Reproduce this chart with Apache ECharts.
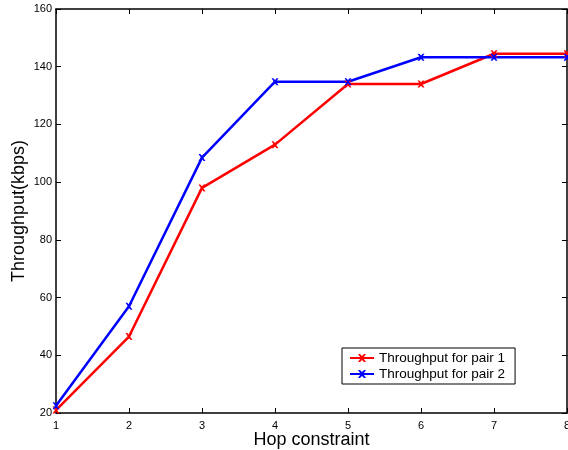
<!DOCTYPE html>
<html>
<head>
<meta charset="utf-8">
<script src="https://cdn.jsdelivr.net/npm/echarts@6/dist/echarts.min.js"></script>
<style>html,body{margin:0;padding:0;background:#fff;}#c{width:568px;height:450px;}</style>
</head>
<body>
<div id="c"></div>
<script>
const hops = [1, 2, 3, 4, 5, 6, 7, 8];
const pair1 = [21, 46.5, 98, 113, 134, 134, 144.5, 144.5];
const pair2 = [22.5, 57, 108.5, 134.8, 134.8, 143.3, 143.3, 143.3];
const seriesNames = ['Throughput for pair 1', 'Throughput for pair 2'];

const FONT = 'Liberation Sans, Arial, Helvetica, sans-serif';
const xMark = 'path://M0,0L2.5,0L5,2.5L7.5,0L10,0L6.5,5L10,10L7.5,10L5,7.5L2.5,10L0,10L3.5,5Z';
const chart = echarts.init(document.getElementById('c'));
const axisCommon = {
  axisLine: { show: true, onZero: false, lineStyle: { color: '#000', width: 1.5 } },
  axisTick: { show: true, inside: true, length: 5, lineStyle: { color: '#000', width: 1 } },
  splitLine: { show: false }
};
chart.setOption({
  animation: false,
  grid: { left: 56, top: 9, right: 1, bottom: 37, show: false, outerBoundsMode: 'none', containLabel: false },
  legend: {
    orient: 'vertical', left: 342, top: 348,
    data: seriesNames,
    borderColor: '#000', borderWidth: 1, backgroundColor: '#fff',
    padding: [3, 10, 3, 7], itemGap: 2, itemWidth: 24, itemHeight: 10,
    textStyle: { fontFamily: FONT, fontSize: 13.5, color: '#000' }
  },
  xAxis: [
    Object.assign({
      type: 'value', min: 1, max: 8, interval: 1, position: 'bottom',
      name: 'Hop constraint', nameLocation: 'middle', nameGap: 18, nameMoveOverlap: false,
      nameTextStyle: { fontFamily: FONT, fontSize: 18, color: '#000', verticalAlign: 'top' },
      axisLabel: { fontFamily: FONT, fontSize: 11, color: '#000', margin: 7 }
    }, axisCommon),
    Object.assign({
      type: 'value', min: 1, max: 8, interval: 1, position: 'top',
      axisLabel: { show: false }
    }, axisCommon)
  ],
  yAxis: [
    Object.assign({
      type: 'value', min: 20, max: 160, interval: 20, position: 'left',
      name: 'Throughput(kbps)', nameLocation: 'middle', nameGap: 28, nameMoveOverlap: false,
      nameTextStyle: { fontFamily: FONT, fontSize: 18, color: '#000' },
      axisLabel: { fontFamily: FONT, fontSize: 11, color: '#000', margin: 4 }
    }, axisCommon),
    Object.assign({
      type: 'value', min: 20, max: 160, interval: 20, position: 'right',
      axisLabel: { show: false }
    }, axisCommon)
  ],
  series: [
    {
      name: seriesNames[0], type: 'line',
      data: hops.map((h, i) => [h, pair1[i]]),
      symbol: xMark, symbolSize: 7, showSymbol: true,
      lineStyle: { color: '#ff0000', width: 2.5 },
      itemStyle: { color: '#ff0000' }
    },
    {
      name: seriesNames[1], type: 'line',
      data: hops.map((h, i) => [h, pair2[i]]),
      symbol: xMark, symbolSize: 7, showSymbol: true,
      lineStyle: { color: '#0000ff', width: 2.5 },
      itemStyle: { color: '#0000ff' }
    }
  ]
});
</script>
</body>
</html>
